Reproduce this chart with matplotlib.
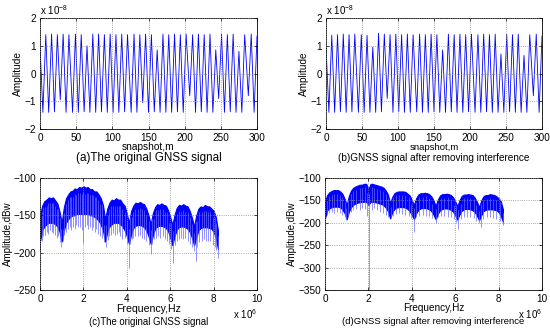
import numpy as np
import matplotlib
matplotlib.use('Agg')
import matplotlib.pyplot as plt

plt.rcParams['font.family'] = ['Liberation Sans', 'DejaVu Sans']
plt.rcParams['font.size'] = 7.2
plt.rcParams['mathtext.fontset'] = 'custom'
plt.rcParams['mathtext.rm'] = 'Liberation Sans'

# ---- time-domain signal: extreme points (snapshot, amplitude x1e-8) ----
snap = [0, 4, 8, 12, 16, 20, 24, 28, 32, 36, 40, 45, 49, 53, 57, 61, 65, 69, 73, 77,
        81, 85, 89, 93, 97, 101, 105, 109, 113, 117, 121, 126, 130, 134, 138, 142, 146, 150, 154, 158,
        162, 166, 170, 174, 178, 182, 186, 190, 194, 198, 202, 207, 211, 215, 219, 223, 227, 231, 235, 239,
        243, 247, 251, 255, 259, 263, 267, 271, 275, 279, 283, 288, 292, 296, 300]

amp_orig = [1.0, -1.4, 1.4, -1.4, 1.42, -1.38, 1.4, -0.95, 1.42, -1.4,
            1.4, -1.4, 1.42, -1.4, 1.4, -1.38, 1.0, -1.4, 1.42, -1.4,
            1.42, -1.38, 1.4, -1.4, 1.42, -1.4, 1.4, -1.4, 1.42, -1.38,
            1.4, -1.4, 1.42, -1.4, 1.4, -1.05, 1.42, -1.4, 1.4, -1.38,
            0.85, -1.4, 1.42, -1.4, 1.4, -1.4, 1.42, -1.38, 1.4, -1.4,
            1.42, -0.8, 1.4, -1.4, 1.42, -1.38, 1.4, -1.4, 1.42, -1.4,
            0.85, -0.9, 1.42, -1.4, 1.4, -1.38, 1.42, -1.4, 0.8, -1.4,
            1.4, -0.8, 1.42, -1.4, 1.35]

amp_clean = [1.0, -1.4, 1.38, -1.4, 1.4, -1.38, 1.42, -1.4, 1.4, -1.38,
             1.42, -1.4, 1.4, -1.4, 1.38, -1.4, 0.95, -1.4, 1.45, -1.38,
             1.42, -0.9, 1.4, -1.4, 1.42, -1.38, 1.4, -1.4, 1.42, -1.4,
             1.4, -1.38, 1.42, -1.4, 1.4, -1.4, 1.42, -1.38, 1.4, -1.4,
             0.85, -1.4, 1.42, -1.38, 1.4, -1.4, 1.42, -1.4, 1.4, -1.38,
             1.42, -1.4, 1.4, -1.4, 1.42, -1.38, 1.4, -1.4, 1.42, -1.4,
             0.7, -1.4, 1.42, -1.38, 1.4, -1.4, 1.42, -1.4, 0.65, -1.4,
             1.4, -0.8, 1.42, -1.4, 1.35]

# ---- spectra: envelope read every 0.1 MHz (x1e6 Hz), dBw ----
freq = [0.0, 0.1, 0.2, 0.3, 0.4, 0.5, 0.6, 0.7, 0.8, 0.9,
        1.0, 1.1, 1.2, 1.3, 1.4, 1.5, 1.6, 1.7, 1.8, 1.9,
        2.0, 2.1, 2.2, 2.3, 2.4, 2.5, 2.6, 2.7, 2.8, 2.9,
        3.0, 3.1, 3.2, 3.3, 3.4, 3.5, 3.6, 3.7, 3.8, 3.9,
        4.0, 4.1, 4.2, 4.3, 4.4, 4.5, 4.6, 4.7, 4.8, 4.9,
        5.0, 5.1, 5.2, 5.3, 5.4, 5.5, 5.6, 5.7, 5.8, 5.9,
        6.0, 6.1, 6.2, 6.3, 6.4, 6.5, 6.6, 6.7, 6.8, 6.9,
        7.0, 7.1, 7.2, 7.3, 7.4, 7.5, 7.6, 7.7, 7.8, 7.9,
        8.0, 8.1, 8.2]

upper_orig = [-150, -137, -131, -129, -126, -127, -126, -130, -134, -145,
              -160, -139, -127, -122, -118, -117, -114, -115, -112, -113,
              -111, -113, -112, -115, -115, -118, -118, -122, -127, -136,
              -155, -141, -133, -129, -130, -127, -129, -129, -134, -137,
              -148, -160, -144, -137, -133, -134, -132, -134, -135, -141,
              -150, -162, -147, -139, -135, -136, -134, -136, -137, -143,
              -152, -163, -149, -140, -136, -137, -135, -137, -138, -144,
              -153, -165, -150, -141, -138, -139, -136, -138, -138, -141,
              -144, -152, -170]
lower_orig = [-185, -170, -165, -162, -160, -160, -160, -162, -165, -172,
              -185, -170, -160, -155, -152, -150, -150, -148, -148, -148,
              -148, -148, -148, -150, -150, -152, -154, -157, -162, -170,
              -185, -172, -165, -162, -160, -160, -160, -162, -165, -170,
              -178, -188, -175, -167, -164, -163, -163, -164, -166, -170,
              -178, -188, -177, -168, -165, -164, -164, -165, -167, -171,
              -180, -190, -178, -169, -166, -165, -165, -166, -168, -172,
              -180, -190, -180, -170, -167, -166, -166, -166, -167, -168,
              -172, -180, -195]
spike_f_orig = [0.02, 0.08, 0.15, 0.22, 0.3, 0.38, 0.45, 0.55, 0.62, 0.7, 0.78, 0.85, 0.92, 0.98,
                1.05, 1.12, 1.2, 1.28, 1.36, 1.45, 1.52, 1.6, 1.68, 1.75, 1.85, 1.92, 2.0, 2.08,
                2.15, 2.22, 2.3, 2.38, 2.45, 2.52, 2.6, 2.68, 2.75, 2.85, 2.95, 3.04, 3.12, 3.2,
                3.28, 3.35, 3.45, 3.55, 3.62, 3.7, 3.8, 3.9, 4.0, 4.08, 4.15, 4.22, 4.3, 4.4,
                4.5, 4.6, 4.7, 4.8, 4.9, 5.0, 5.1, 5.18, 5.25, 5.35, 5.45, 5.55, 5.65, 5.75,
                5.85, 5.95, 6.05, 6.12, 6.2, 6.3, 6.4, 6.5, 6.6, 6.7, 6.8, 6.9, 7.0, 7.1,
                7.18, 7.25, 7.35, 7.45, 7.55, 7.65, 7.75, 7.85, 7.95, 8.05, 8.12, 8.18]
spike_v_orig = [-200, -185, -178, -176, -172, -175, -170, -172, -174, -176, -180, -178, -186, -192,
                -184, -176, -172, -168, -165, -170, -165, -168, -163, -166, -165, -170, -187, -166,
                -163, -168, -165, -170, -166, -172, -168, -175, -178, -180, -186, -193, -183, -178,
                -176, -174, -176, -175, -172, -178, -182, -180, -188, -220, -188, -182, -180, -178,
                -178, -176, -180, -182, -185, -190, -202, -188, -182, -180, -178, -180, -178, -182,
                -185, -188, -195, -214, -190, -184, -182, -180, -182, -180, -184, -188, -192, -198,
                -211, -192, -186, -184, -182, -184, -185, -184, -190, -192, -196, -207]

upper_clean = [-152, -138, -132, -129, -127, -127, -127, -130, -135, -146,
               -160, -140, -128, -122, -119, -117, -115, -115, -113, -113,
               -125, -113, -113, -115, -116, -118, -119, -122, -128, -137,
               -156, -142, -134, -131, -130, -130, -130, -131, -135, -139,
               -149, -160, -145, -137, -134, -134, -133, -134, -136, -141,
               -150, -162, -148, -139, -136, -136, -135, -136, -138, -143,
               -152, -163, -149, -140, -137, -137, -136, -137, -138, -144,
               -153, -165, -150, -141, -138, -138, -136, -137, -138, -141,
               -145, -152, -170]
lower_clean = [-190, -172, -168, -165, -164, -164, -164, -166, -170, -178,
               -192, -175, -165, -160, -157, -155, -154, -153, -153, -153,
               -160, -153, -153, -154, -155, -157, -158, -161, -166, -174,
               -190, -176, -169, -166, -165, -165, -165, -166, -169, -174,
               -182, -192, -179, -171, -168, -167, -167, -168, -170, -174,
               -182, -192, -180, -172, -169, -168, -168, -169, -171, -175,
               -183, -193, -181, -173, -170, -169, -169, -170, -172, -176,
               -184, -194, -183, -174, -171, -170, -170, -170, -171, -172,
               -176, -184, -198]
spike_f_clean = [0.02, 0.1, 0.2, 0.3, 0.42, 0.55, 0.68, 0.8, 0.9, 0.98, 1.08, 1.2, 1.3, 1.45,
                 1.6, 1.72, 1.85, 1.95, 2.05, 2.15, 2.28, 2.4, 2.55, 2.68, 2.8, 2.92, 3.03, 3.15,
                 3.28, 3.4, 3.55, 3.7, 3.85, 3.98, 4.08, 4.2, 4.35, 4.5, 4.65, 4.8, 4.95, 5.1,
                 5.22, 5.35, 5.5, 5.65, 5.8, 5.95, 6.05, 6.12, 6.25, 6.4, 6.55, 6.7, 6.85, 6.98,
                 7.1, 7.18, 7.3, 7.45, 7.6, 7.75, 7.9, 8.05, 8.18]
spike_v_clean = [-195, -182, -178, -176, -178, -175, -178, -182, -186, -193, -185, -175, -172, -170,
                 -172, -168, -170, -185, -350, -172, -168, -172, -175, -178, -182, -188, -190, -184,
                 -180, -178, -180, -182, -185, -190, -220, -188, -184, -182, -184, -185, -190, -200,
                 -188, -185, -184, -186, -188, -192, -198, -213, -192, -188, -186, -188, -190, -196,
                 -200, -210, -192, -188, -188, -190, -192, -196, -205]

blue = (0, 0, 1)
light = (0.4, 0.4, 1)
W, H = 550, 329
fig = plt.figure(figsize=(W / 100, H / 100), dpi=100)

# panel layout in pixels: axes box, label/caption positions and font sizes
panels = {
    'a': dict(box=[40, 18, 257, 129], ylab_x=18, xlab_y=147, cap_y=158, cap_fs=8.4, xlab_fs=7.3, ylab_fs=7.3),
    'b': dict(box=[326, 18, 542, 129], ylab_x=304, xlab_y=147, cap_y=158, cap_fs=7.2, xlab_fs=6.8, ylab_fs=7.2),
    'c': dict(box=[40, 178, 257, 290], ylab_x=8, xlab_y=309, cap_y=322, cap_fs=6.9, xlab_fs=7.6, ylab_fs=7.0),
    'd': dict(box=[325, 178, 542, 290], ylab_x=292, xlab_y=308, cap_y=322, cap_fs=6.8, xlab_fs=7.2, ylab_fs=7.0),
}


def make_ax(key, xlabel, ylabel, caption):
    p = panels[key]
    l, t, r, b = p['box']
    ax = fig.add_axes([l / W, 1 - b / H, (r - l) / W, (b - t) / H])
    ax.tick_params(direction='in', top=True, right=True, length=2.5, width=0.5, pad=3, labelsize=7.2)
    for s in ax.spines.values():
        s.set_linewidth(0.6)
    ax.grid(True, linestyle=':', color='0.55', linewidth=0.6)
    ax.set_axisbelow(False)
    ax.set_xlabel(xlabel, fontsize=p['xlab_fs'], va='center')
    ax.xaxis.set_label_coords((l + r) / 2 / W, 1 - p['xlab_y'] / H, transform=fig.transFigure)
    ax.set_ylabel(ylabel, fontsize=p['ylab_fs'], va='center')
    ax.yaxis.set_label_coords(p['ylab_x'] / W, 1 - (t + b) / 2 / H, transform=fig.transFigure)
    fig.text((l + r) / 2 / W, 1 - p['cap_y'] / H, caption, fontsize=p['cap_fs'], ha='center', va='center')
    return ax, l, r


def time_panel(key, amp, caption):
    ax, l, r = make_ax(key, 'snapshot,m', 'Amplitude', caption)
    ax.plot(snap, amp, color=blue, linewidth=0.6)
    ax.set_xlim(0, 300)
    ax.set_ylim(-2, 2)
    ax.set_xticks(range(0, 301, 50))
    ax.set_yticks([-2, -1, 0, 1, 2])
    fig.text(l / W, 1 - 10 / H, 'x 10$^{-8}$', fontsize=7, va='center', ha='left')


def spec_panel(key, upper, lower, sf, sv, ylo, caption):
    ax, l, r = make_ax(key, 'Frequency,Hz', 'Amplitude,dBw', caption)
    base = [upper[int(round(f * 10))] - 8 for f in sf]
    ax.vlines(sf, base, sv, color=light, linewidth=0.5)
    ax.fill_between(freq, lower, upper, color=blue, linewidth=0.8, edgecolor=blue)
    ax.set_xlim(0, 10)
    ax.set_ylim(ylo, -100)
    ax.set_xticks(range(0, 11, 2))
    ax.set_yticks(range(ylo, -99, 50))
    fig.text(r / W, 1 - 314 / H, 'x 10$^{6}$', fontsize=7, ha='right', va='center')


time_panel('a', amp_orig, '(a)The original GNSS signal')
time_panel('b', amp_clean, '(b)GNSS signal after removing interference')
spec_panel('c', upper_orig, lower_orig, spike_f_orig, spike_v_orig, -250, '(c)The original GNSS signal')
spec_panel('d', upper_clean, lower_clean, spike_f_clean, spike_v_clean, -350,
           '(d)GNSS signal after removing interference')

fig.savefig('out.png', dpi=100)
